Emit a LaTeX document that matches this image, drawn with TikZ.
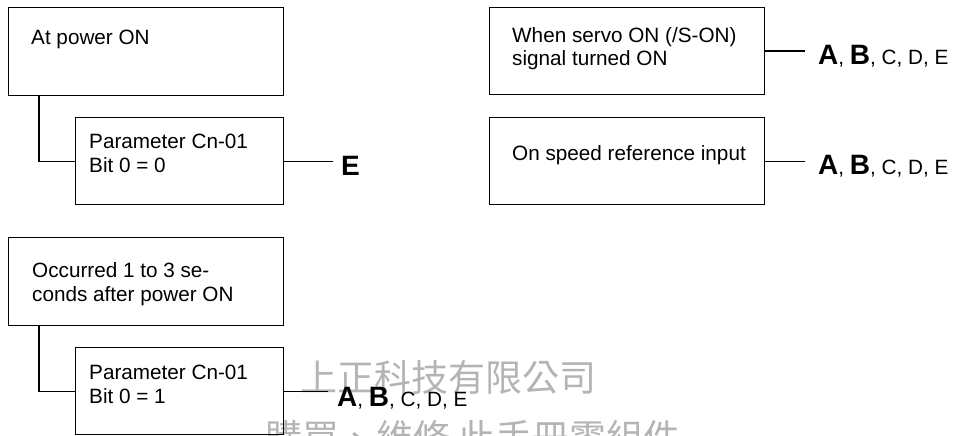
\documentclass[tikz,border=0pt]{standalone}
\usepackage{fontspec}
\usepackage{tikz}
\setmainfont{Liberation Sans}
\newfontfamily\stampfont{Noto Sans CJK TC}
\usetikzlibrary{positioning}
\definecolor{stampgray}{HTML}{B4B4B4}
\newcommand{\keyletter}[1]{{\fontsize{28}{28}\selectfont\bfseries #1}}

\begin{document}
\begin{tikzpicture}[
    x=1pt, y=-1pt,
    box/.style={rectangle, draw, line width=1.1pt, anchor=north west, inner sep=0pt},
    txt/.style={align=left, inner sep=0pt, anchor=base west,
                font=\fontsize{20.7}{24}\selectfont},
    lbl/.style={inner sep=0pt, anchor=base west, font=\fontsize{20.7}{24}\selectfont},
    tie/.style={line width=1.1pt},
    stamp/.style={text=stampgray, inner sep=0pt, font=\stampfont\fontsize{37}{37}\selectfont}
  ]
    \useasboundingbox (0,0) rectangle (963,436);
    \clip (0,0) rectangle (963,436);

    \node[stamp] (mark1) at (448,378) {上正科技有限公司};
    \node[stamp] (mark2) at (473,437) {購買、維修 此手冊零組件};

    \node[box, minimum width=275pt, minimum height=88pt] (power) at (8,7) {};
    \node[box, minimum width=208pt, minimum height=87pt] (bitzero) at (75,117) {};
    \node[box, minimum width=275pt, minimum height=88pt] (delay) at (8,237) {};
    \node[box, minimum width=208pt, minimum height=87pt] (bitone) at (75,347) {};
    \node[box, minimum width=275pt, minimum height=87pt] (servo) at (489,7) {};
    \node[box, minimum width=275pt, minimum height=87pt] (speed) at (489,117) {};

    \node[txt] (powertxt) at ([shift={(23,38)}]power.north west) {At power ON};
    \node[txt] (bitzerotxt) at ([shift={(14,55)}]bitzero.north west) {Parameter Cn-01\\Bit 0 = 0};
    \node[txt] (delaytxt) at ([shift={(24,64)}]delay.north west) {Occurred 1 to 3 se-\\conds after power ON};
    \node[txt] (bitonetxt) at ([shift={(14,56)}]bitone.north west) {Parameter Cn-01\\Bit 0 = 1};
    \node[txt] (servotxt) at ([shift={(23,59)}]servo.north west) {When servo ON (/S-ON)\\signal turned ON};
    \node[txt] (speedtxt) at ([shift={(23,43)}]speed.north west) {On speed reference input};

    \node[lbl] (bitzerokey) at (341,175) {\keyletter{E}};
    \node[lbl] (bitonekey) at (337,406) {\keyletter{A}, \keyletter{B}, C, D, E};
    \node[lbl] (servokey) at (818,64) {\keyletter{A}, \keyletter{B}, C, D, E};
    \node[lbl] (speedkey) at (818,174) {\keyletter{A}, \keyletter{B}, C, D, E};

    \draw[tie] ([xshift=31pt]power.south west) |- (bitzero.west);
    \draw[tie] ([xshift=31pt]delay.south west) |- (bitone.west);
    \draw[tie, shorten >=8pt] (bitzero.east) -- (bitzero.east -| bitzerokey.west);
    \draw[tie, shorten >=9pt] (bitone.east) -- (bitone.east -| bitonekey.west);
    \draw[tie, shorten >=13pt] (servo.east) -- (servo.east -| servokey.west);
    \draw[tie, shorten >=13pt] (speed.east) -- (speed.east -| speedkey.west);
  \end{tikzpicture}
\end{document}
